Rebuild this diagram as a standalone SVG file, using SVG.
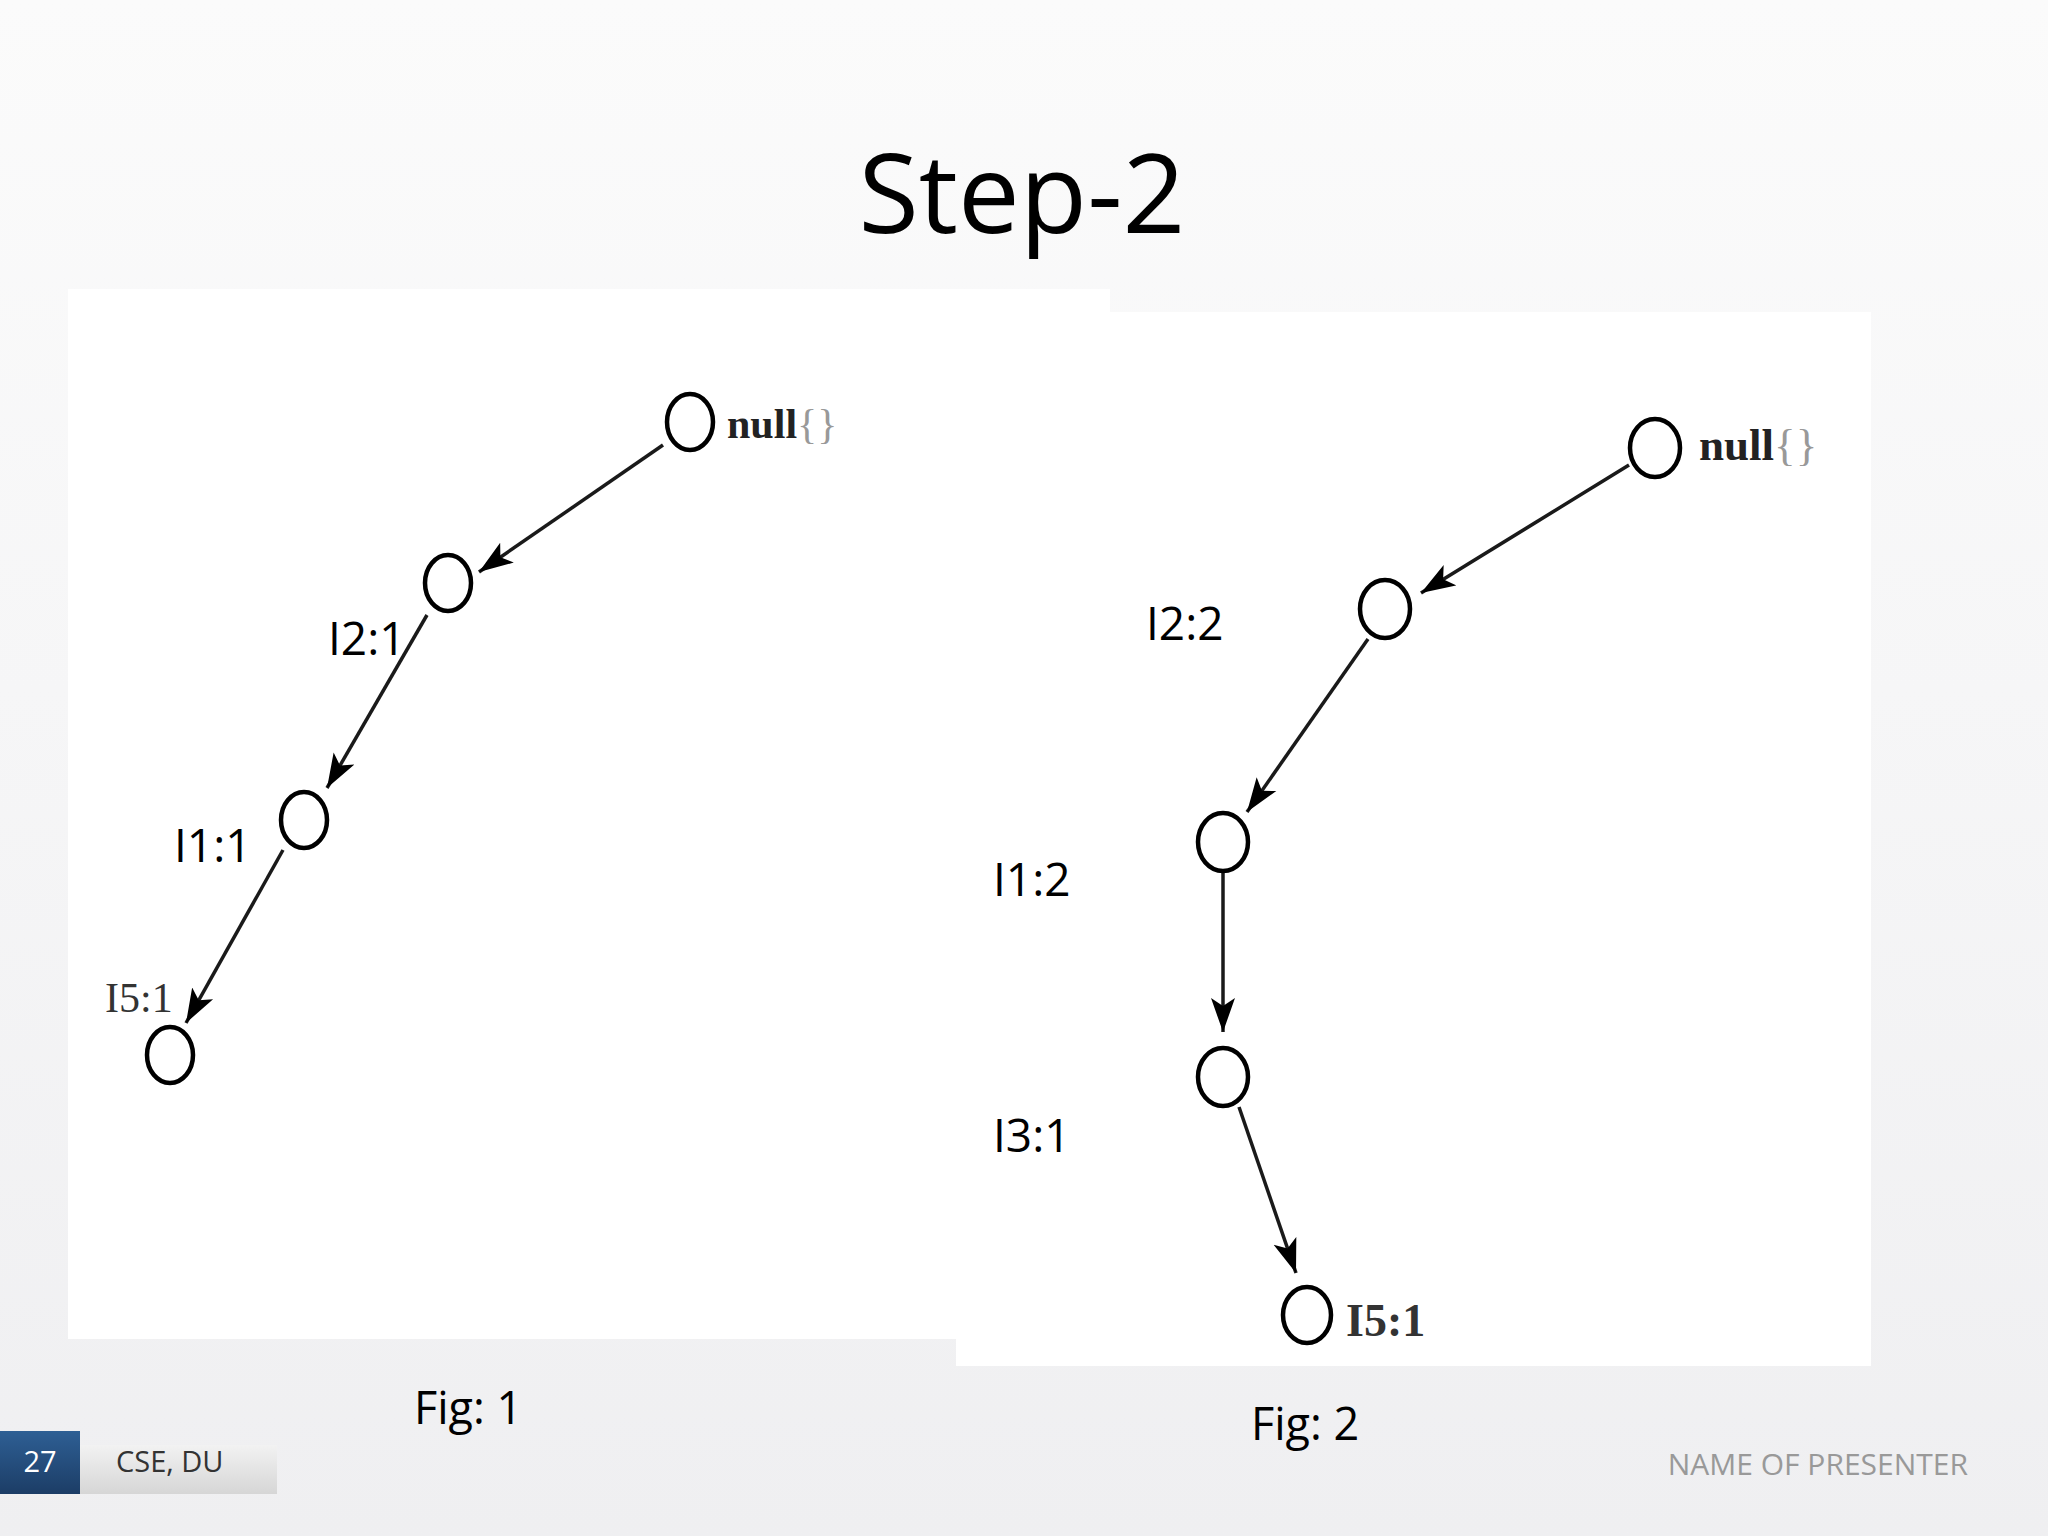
<svg xmlns="http://www.w3.org/2000/svg" width="2048" height="1536" viewBox="0 0 2048 1536">
<defs>
<linearGradient id="bg" x1="0" y1="0" x2="0" y2="1">
<stop offset="0" stop-color="#fbfbfb"/>
<stop offset="0.45" stop-color="#f6f6f7"/>
<stop offset="1" stop-color="#efeff1"/>
</linearGradient>
<linearGradient id="blue" x1="0" y1="0" x2="0" y2="1">
<stop offset="0" stop-color="#2e5f94"/>
<stop offset="1" stop-color="#1c3d66"/>
</linearGradient>
<linearGradient id="grey" x1="0" y1="0" x2="0" y2="1">
<stop offset="0" stop-color="#f2f2f2"/>
<stop offset="1" stop-color="#d6d6d6"/>
</linearGradient>
<marker id="arr" markerUnits="userSpaceOnUse" markerWidth="36" markerHeight="26" refX="34" refY="13" orient="auto">
<path d="M0,1 L34,13 L0,25 L8,13 Z" fill="#000"/>
</marker>
<style>
.node{fill:#fff;stroke:#000;stroke-width:4.5}
.edge{stroke:#1a1a1a;stroke-width:3.5;fill:none;marker-end:url(#arr)}
.lbl{font-family:"Open Sans","Liberation Sans",sans-serif;font-size:46px;fill:#000}
.ser{font-family:"Liberation Serif",serif;fill:#333}
.fig{font-family:"Open Sans","Liberation Sans",sans-serif;font-size:45px;fill:#000}
</style>
</defs>
<rect x="0" y="0" width="2048" height="1536" fill="url(#bg)"/>
<text x="1022" y="233" text-anchor="middle" font-family="Open Sans, Liberation Sans, sans-serif" font-size="110" fill="#000">Step-2</text>

<rect x="68" y="289" width="1042" height="1050" fill="#fff"/>
<rect x="956" y="312" width="915" height="1054" fill="#fff"/>

<g id="connectors">
<line class="edge" x1="663" y1="445" x2="479" y2="572"/>
<line class="edge" x1="427" y1="615" x2="327" y2="788"/>
<line class="edge" x1="283" y1="850" x2="186" y2="1023"/>
<line class="edge" x1="1629" y1="465" x2="1421" y2="593"/>
<line class="edge" x1="1368" y1="639" x2="1247" y2="812"/>
<line class="edge" x1="1223" y1="872" x2="1223" y2="1032"/>
<line class="edge" x1="1239" y1="1107" x2="1296" y2="1273"/>
</g>

<g id="f1-null">
<ellipse class="node" cx="690" cy="422" rx="23" ry="28"/>
<text x="727" y="438" font-family="Liberation Serif, serif" font-weight="bold" font-size="42" fill="#222">null<tspan fill="#999" font-weight="normal">{}</tspan></text>
</g>
<g id="f1-i2">
<ellipse class="node" cx="448" cy="583" rx="23" ry="28"/>
<text class="lbl" x="328" y="655">I2:1</text>
</g>
<g id="f1-i1">
<ellipse class="node" cx="304" cy="820" rx="23" ry="28"/>
<text class="lbl" x="174" y="862">I1:1</text>
</g>
<g id="f1-i5">
<ellipse class="node" cx="170" cy="1055" rx="23" ry="28"/>
<text class="ser" x="105" y="1012" font-size="42">I5:1</text>
</g>

<g id="f2-null">
<ellipse class="node" cx="1655" cy="448" rx="25" ry="29"/>
<text x="1699" y="460" font-family="Liberation Serif, serif" font-weight="bold" font-size="45" fill="#222">null<tspan fill="#999" font-weight="normal">{}</tspan></text>
</g>
<g id="f2-i2">
<ellipse class="node" cx="1385" cy="609" rx="25" ry="29"/>
<text class="lbl" x="1146" y="640">I2:2</text>
</g>
<g id="f2-i1">
<ellipse class="node" cx="1223" cy="842" rx="25" ry="29"/>
<text class="lbl" x="993" y="896">I1:2</text>
</g>
<g id="f2-i3">
<ellipse class="node" cx="1223" cy="1077" rx="25" ry="29"/>
<text class="lbl" x="993" y="1152">I3:1</text>
</g>
<g id="f2-i5">
<ellipse class="node" cx="1307" cy="1315" rx="24" ry="28"/>
<text class="ser" x="1346" y="1336" font-size="46" font-weight="bold" fill="#555">I5:1</text>
</g>

<text class="fig" x="414" y="1424">Fig: 1</text>
<text class="fig" x="1251" y="1440">Fig: 2</text>

<g id="footer">
<rect x="80" y="1445" width="197" height="49" fill="url(#grey)"/>
<rect x="0" y="1431" width="80" height="63" fill="url(#blue)"/>
<text x="40" y="1472" text-anchor="middle" font-family="Open Sans, Liberation Sans, sans-serif" font-size="29" fill="#fff">27</text>
<text x="116" y="1472" font-family="Open Sans, Liberation Sans, sans-serif" font-size="29" fill="#333">CSE, DU</text>
<text x="1968" y="1475" text-anchor="end" font-family="Open Sans, Liberation Sans, sans-serif" font-size="30" fill="#999">NAME OF PRESENTER</text>
</g>
</svg>
